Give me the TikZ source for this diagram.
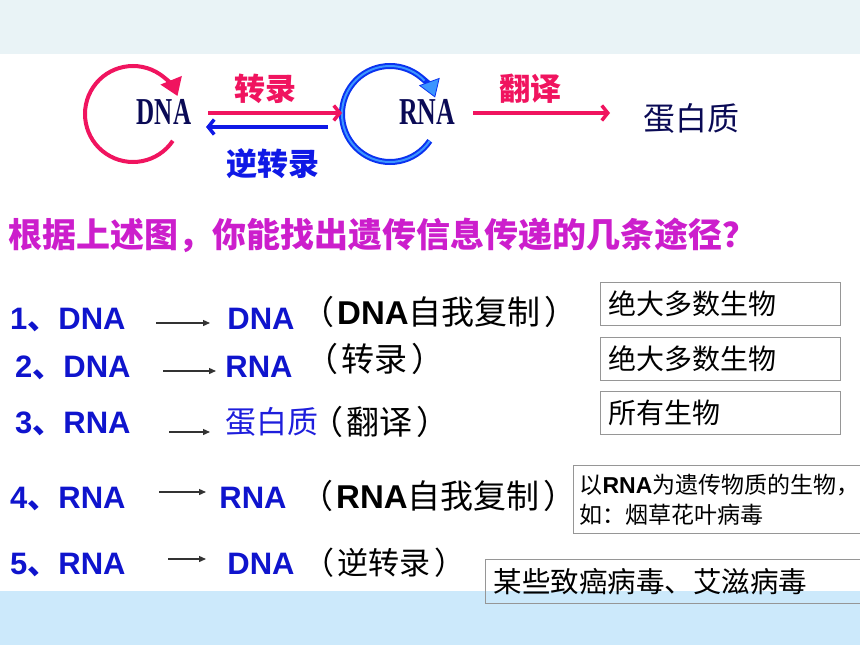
\documentclass[tikz,border=0pt]{standalone}
\usepackage{fontspec}
\setmainfont{Liberation Sans}
\newfontfamily\cjk{Noto Sans CJK SC}
\newfontfamily\tms{Liberation Serif}
\usepackage{xcolor}
\usetikzlibrary{arrows.meta}
\definecolor{topbar}{RGB}{233,243,246}
\definecolor{botbar}{RGB}{204,233,251}
\definecolor{rose}{RGB}{240,20,95}
\definecolor{rblue}{RGB}{15,25,230}
\definecolor{navy}{RGB}{10,10,85}
\definecolor{lblue}{RGB}{15,20,205}
\definecolor{pblue}{RGB}{30,30,220}
\definecolor{qmag}{RGB}{204,30,204}
\definecolor{ringout}{RGB}{10,50,240}
\definecolor{ringin}{RGB}{60,150,255}
\definecolor{boxgray}{RGB}{150,150,150}
\newcommand{\fsz}[1]{\fontsize{#1}{#1}\selectfont}
\newcommand{\lat}[1]{{\rmfamily\bfseries #1}}
\newcommand{\lpar}{（\kern3pt}
\newcommand{\rpar}{\kern4pt）}

\begin{document}
\begin{tikzpicture}[x=1pt,y=-1pt,>=latex]
\tikzstyle{lbl}=[inner sep=0pt,anchor=base,font=\cjk\bfseries\fsz{31}]
\tikzstyle{mol}=[inner sep=0pt,anchor=base,text=navy,font=\tms\bfseries\fsz{38}]
\tikzstyle{rowl}=[inner sep=0pt,anchor=base west,text=lblue,font=\bfseries\fsz{31}]
\tikzstyle{rowr}=[inner sep=0pt,anchor=base,text=lblue,font=\bfseries\fsz{31}]
\tikzstyle{note}=[inner sep=0pt,anchor=base west,font=\cjk\fsz{33}]
\tikzstyle{rowarr}=[draw=black!80,line width=1.3pt,-{Triangle[length=7pt,width=6pt]}]
\tikzstyle{infobox}=[draw=boxgray,line width=1.2pt,anchor=north west,inner xsep=8pt,inner ysep=0pt,align=left,font=\cjk\fsz{28}]
\useasboundingbox (0,0) rectangle (860,645);
\fill[topbar] (0,0) rectangle (860,54);
\fill[botbar] (0,591) rectangle (860,645);
% self replication rings
\draw[rose,line width=4pt,-{Triangle[length=17pt,width=22pt]}] (133,114) ++(34:48) arc[start angle=34,end angle=338,radius=48];
\draw[ringout,line width=6pt,-{Triangle[length=17pt,width=22pt,fill=ringin,line width=0.8pt]}] (390,114) ++(34:48) arc[start angle=34,end angle=340,radius=48];
\draw[ringin,line width=2pt] (390,114) ++(34:48) arc[start angle=34,end angle=316,radius=48];
\node[mol] (dna) at (164,124.5) {\scalebox{0.66}[1]{DNA}};
\node[mol] (rna) at (427,124.5) {\scalebox{0.68}[1]{RNA}};
\node[lbl,text=navy,font=\cjk\fsz{32}] (prot) at (691,130) {蛋白质};
% flow arrows
\coordinate (ts) at (208,113);
\coordinate (te) at (342,113);
\coordinate (rs) at (328,127);
\coordinate (re) at (206,127);
\coordinate (fs) at (473,113);
\coordinate (fe) at (610,113);
\draw[rose,line width=3.5pt,-{Straight Barb[length=6pt,width=15pt]}] (ts) -- (te);
\draw[rblue,line width=3.5pt,-{Straight Barb[length=6pt,width=15pt]}] (rs) -- (re);
\draw[rose,line width=3.5pt,-{Straight Barb[length=6pt,width=15pt]}] (fs) -- (fe);
\node[lbl,text=rose] (zl) at (265,100) {转录};
\node[lbl,text=rblue] (nz) at (273,175) {逆转录};
\node[lbl,text=rose] (fy) at (530,100) {翻译};
\node[inner sep=0pt,anchor=base west,text=qmag,font=\cjk\bfseries\fsz{34}] (q) at (8,247) {根据上述图，你能找出遗传信息传递的几条途径？};
% the five routes
\node[rowl] (a1) at (10,329) {1{\cjk 、}DNA};
\node[rowr] (b1) at (261,329) {DNA};
\node[note] (c1) at (301,324) {\lpar\lat{DNA}自我复制\rpar};
\node[rowl] (a2) at (15,377) {2{\cjk 、}DNA};
\node[rowr] (b2) at (259,377) {RNA};
\node[note] (c2) at (305,371) {\lpar 转录\rpar};
\node[rowl] (a3) at (15,433) {3{\cjk 、}RNA};
\node[lbl,text=pblue,font=\cjk\fsz{31}] (b3) at (272,433) {蛋白质};
\node[note] (c3) at (310,434) {\lpar 翻译\rpar};
\node[rowl] (a4) at (10,508) {4{\cjk 、}RNA};
\node[rowr] (b4) at (253,508) {RNA};
\node[note] (c4) at (300,508) {\lpar\lat{RNA}自我复制\rpar};
\node[rowl] (a5) at (10,574) {5{\cjk 、}RNA};
\node[rowr] (b5) at (261,574) {DNA};
\node[note,font=\cjk\fsz{31}] (c5) at (303,574) {\lpar 逆转录\rpar};
\coordinate (s1) at (156,323); \coordinate (e1) at (210,323);
\coordinate (s2) at (163,371); \coordinate (e2) at (216,371);
\coordinate (s3) at (169,432); \coordinate (e3) at (210,432);
\coordinate (s4) at (159,492); \coordinate (e4) at (206,492);
\coordinate (s5) at (168,559); \coordinate (e5) at (206,559);
\draw[rowarr] (s1) -- (e1);
\draw[rowarr] (s2) -- (e2);
\draw[rowarr] (s3) -- (e3);
\draw[rowarr] (s4) -- (e4);
\draw[rowarr] (s5) -- (e5);
% which organisms
\node[infobox,minimum width=240pt,minimum height=43pt,text width=224pt] (o1) at (600,282) {绝大多数生物};
\node[infobox,minimum width=240pt,minimum height=43pt,text width=224pt] (o2) at (600,337) {绝大多数生物};
\node[infobox,minimum width=240pt,minimum height=43pt,text width=224pt] (o3) at (600,391) {所有生物};
\node[infobox,minimum width=288pt,minimum height=68pt,text width=276pt,font=\cjk\fontsize{23}{30}\selectfont,inner xsep=6pt] (o4) at (573,465) {以\lat{RNA}为遗传物质的生物，\\如：烟草花叶病毒};
\node[infobox,minimum width=390pt,minimum height=44pt,text width=374pt,font=\cjk\fsz{28.5}] (o5) at (485,559) {某些致癌病毒、艾滋病毒};
\end{tikzpicture}
\end{document}
